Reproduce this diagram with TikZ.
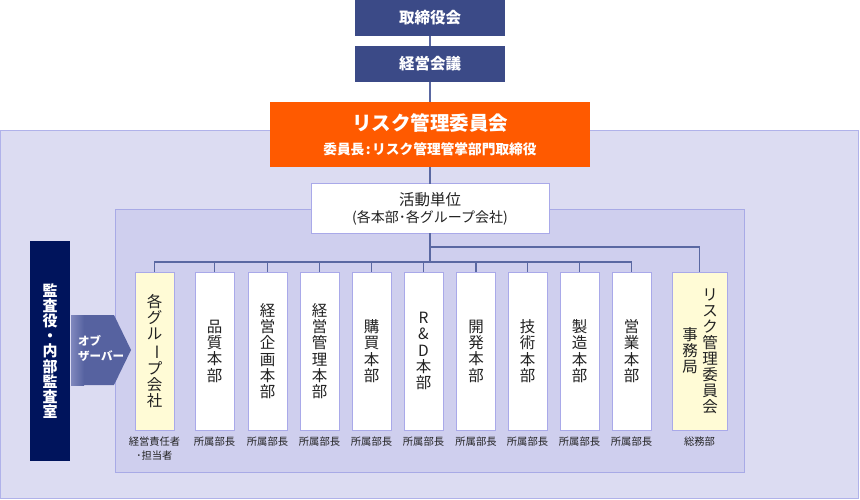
\documentclass[tikz,border=0pt]{standalone}
\usepackage{fontspec}
\setmainfont{Noto Sans CJK JP}
\usepackage{graphicx}
\definecolor{navy}{HTML}{3B4A87}
\definecolor{deepnavy}{HTML}{00145C}
\definecolor{riskorange}{HTML}{FF5A00}
\definecolor{outerbg}{HTML}{DCDCF2}
\definecolor{outerline}{HTML}{B0B2EA}
\definecolor{innerbg}{HTML}{CFCFEE}
\definecolor{innerline}{HTML}{A8AAE6}
\definecolor{boxline}{HTML}{A9A9E9}
\definecolor{connline}{HTML}{5A68A2}
\definecolor{obsfill}{HTML}{5662A0}
\definecolor{obslight}{HTML}{8088BE}
\definecolor{paleyellow}{HTML}{FFFBD6}
\definecolor{txt}{HTML}{222222}
\newcommand\vbar{\rotatebox[origin=c]{-90}{ー}}
\begin{document}
\begin{tikzpicture}[x=1pt,y=-1pt,
  topbox/.style={fill=navy,text=white,minimum width=150pt,minimum height=36pt,inner sep=0pt,outer sep=0pt,font={\fontsize{15.5}{16}\selectfont\bfseries}},
  colbox/.style={draw=boxline,line width=1pt,fill=white,minimum width=39pt,minimum height=158pt,inner sep=0pt,outer sep=0pt,align=center,text=txt,font={\fontsize{15.5}{16.3}\selectfont}},
  vt/.style={inner sep=0pt,align=center,text=txt,font={\fontsize{15.5}{16}\selectfont}},
  lab/.style={inner sep=0pt,align=center,text=txt,font={\fontsize{10.3}{14}\selectfont}},
  conn/.style={draw=connline,line width=1.8pt},
  mainconn/.style={draw=connline,line width=1.6pt}
]
\useasboundingbox (0,0) rectangle (860,500);
\fill[white] (0,0) rectangle (860,500);
% backgrounds
\draw[fill=outerbg,draw=outerline,line width=1pt] (0.5,130.5) rectangle (858.5,498.5);
\draw[fill=innerbg,draw=innerline,line width=1pt] (115.5,209.5) rectangle (744.5,472.5);

% top chain
\node[topbox] (board) at (430,18) {取締役会};
\node[topbox] (mgmt) at (430,64) {経営会議};
\node[fill=riskorange,text=white,minimum width=320pt,minimum height=65pt,inner sep=0pt,outer sep=0pt,align=center,
      font={\fontsize{13.7}{24}\selectfont\bfseries}] (risk) at (430,134.5)
      {{\fontsize{19.5}{24}\selectfont リスク管理委員会}\\委員長\kern1.5pt:\kern1.5pt リスク管理管掌部門取締役};
\node[draw=boxline,line width=1pt,fill=white,minimum width=238pt,minimum height=49pt,inner sep=0pt,outer sep=0pt,align=center,text=txt,
      font={\fontsize{14}{17}\selectfont}] (unit) at (430,208.5)
      {{\fontsize{15.5}{17}\selectfont 活動単位}\\(各本部･各グループ会社)};

\coordinate (b1) at (430,262);
\coordinate (b2) at (430,247);

% columns
\node[colbox,fill=paleyellow] (c0) at (154.5,351) {各\\グ\\ル\\\vbar\\プ\\会\\社};
\node[colbox] (c1) at (214.5,351) {品\\質\\本\\部};
\node[colbox] (c2) at (267.5,351) {経\\営\\企\\画\\本\\部};
\node[colbox] (c3) at (319.5,351) {経\\営\\管\\理\\本\\部};
\node[colbox] (c4) at (371.5,351) {購\\買\\本\\部};
\node[colbox] (c5) at (423.5,351) {R\\\&\\D\\本\\部};
\node[colbox] (c6) at (476,351) {開\\発\\本\\部};
\node[colbox] (c7) at (527.5,351) {技\\術\\本\\部};
\node[colbox] (c8) at (579.5,351) {製\\造\\本\\部};
\node[colbox] (c9) at (631.5,351) {営\\業\\本\\部};
\node[colbox,fill=paleyellow,minimum width=55pt] (jm) at (699.5,351) {};
\node[vt] (jm1) at (710,351) {リ\\ス\\ク\\管\\理\\委\\員\\会};
\node[vt] (jm2) at (690,351) {事\\務\\局};

% connectors
\draw[mainconn] (board.south) -- (mgmt.north);
\draw[mainconn] (mgmt.south) -- (risk.north);
\draw[mainconn] (risk.south) -- (unit.north);
\draw[mainconn] (unit.south) -- (b1);
\draw[conn] (b2) -| (jm.north);
\foreach \c in {c0,c1,c2,c3,c4,c5,c6,c7,c8,c9}{
  \draw[conn] (b1) -| (\c.north);
}

% labels under columns
\node[lab] (l0) at ([yshift=-19pt]c0.south) {経営責任者\\･担当者};
\foreach \c in {c1,c2,c3,c4,c5,c6,c7,c8,c9}{
  \node[lab] (l\c) at ([yshift=-12pt]\c.south) {所属部長};
}
\node[lab] (ljm) at ([yshift=-12pt]jm.south) {総務部};

% audit
\node[fill=deepnavy,text=white,minimum width=40pt,minimum height=220pt,inner sep=0pt,outer sep=0pt,align=center,
      font={\fontsize{15}{15.2}\selectfont\bfseries}] (audit) at (50,351)
      {監\\査\\役\\・\\内\\部\\監\\査\\室};

% observer arrow
\fill[obsfill] (71,315) -- (114,315) -- (131,350) -- (114,385) -- (71,385) -- cycle;
\shade[left color=obslight,right color=obsfill] (71,315) rectangle (84,385);
\node[inner sep=0pt,align=left,text=white,anchor=west,font={\fontsize{11.5}{15}\selectfont\bfseries}] (obs) at (78,348) {オブ\\ザーバー};
\end{tikzpicture}
\end{document}
